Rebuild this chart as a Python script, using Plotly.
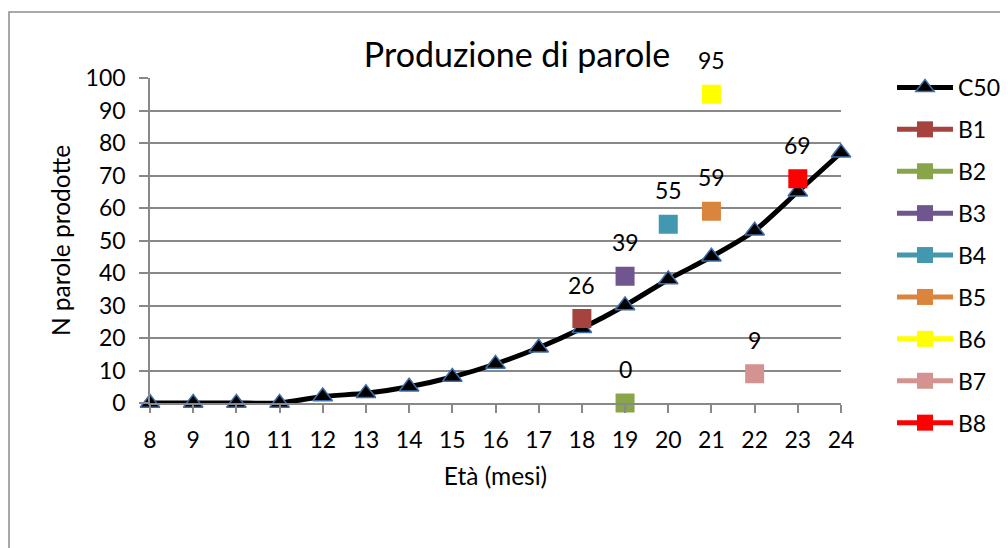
import plotly.graph_objects as go

months = list(range(8, 25))
c50 = [0, 0, 0, 0, 2, 3, 5, 8, 12, 17, 23, 30, 38, 45, 53, 65, 77]

b_names = ["B1", "B2", "B3", "B4", "B5", "B6", "B7", "B8"]
b_x = [18, 19, 19, 20, 21, 21, 22, 23]
b_y = [26, 0, 39, 55, 59, 95, 9, 69]
b_colors = ["#A5433F", "#89A54A", "#6F568F", "#4198AF", "#DB843D", "#FFFF00", "#D49391", "#FF0000"]

W, H = 1008, 548
OFF = 8  # page body margin
L, R = 150 - OFF, 841 - OFF
T, B = 78 - OFF, 403 - OFF

FONT = "Lato"

fig = go.Figure()
fig.add_trace(go.Scatter(
    x=months, y=c50, mode="lines+markers", name="C50",
    line=dict(color="black", width=5, shape="spline", smoothing=0.6),
    marker=dict(symbol="triangle-up", size=17, color="black",
                line=dict(color="#3C6DA8", width=1.5)),
    cliponaxis=False, legendgroup="C50",
))
for n, x, y, c in zip(b_names, b_x, b_y, b_colors):
    fig.add_trace(go.Scatter(
        x=[x], y=[y], mode="lines+markers", name=n,
        line=dict(color=c, width=5),
        marker=dict(symbol="square", size=19, color=c),
        cliponaxis=False, legendgroup=n,
    ))

annotations = [dict(x=x, y=y, text=str(y), showarrow=False, yshift=34,
                    xanchor="center", yanchor="middle",
                    font=dict(family=FONT, size=23, color="black"))
               for x, y in zip(b_x, b_y)]

grid = "#888888"
fig.update_layout(
    width=W, height=H,
    margin=dict(l=L, r=W - R, t=T, b=H - B, autoexpand=False),
    paper_bgcolor="white", plot_bgcolor="white",
    font=dict(family=FONT, size=23, color="black"),
    title=dict(text="Produzione di parole", x=(517 - OFF) / W, xanchor="center",
               y=1 - (55 - OFF) / H, yanchor="middle", xref="container", yref="container",
               font=dict(family=FONT, size=34, color="black")),
    xaxis=dict(range=[8, 24], dtick=1, tick0=8, showgrid=False,
               showline=True, linecolor=grid, linewidth=1.5,
               ticks="outside", ticklen=8, tickcolor=grid, tickwidth=1.5,
               ticklabelstandoff=8, zeroline=False,
               title=dict(text="Età (mesi)", font=dict(size=24.5), standoff=16)),
    yaxis=dict(range=[0, 100], dtick=10, showgrid=True, gridcolor=grid, gridwidth=1.5,
               showline=True, linecolor=grid, linewidth=1.5,
               ticks="outside", ticklen=9, tickcolor=grid, tickwidth=1.5,
               ticklabelstandoff=9, zeroline=False,
               title=dict(text="N parole prodotte", font=dict(size=24.5), standoff=8)),
    legend=dict(x=(892 - OFF) / W, xanchor="left", y=1 - (66 - OFF) / H, yanchor="top",
                xref="container", yref="container", maxheight=1,
                font=dict(size=23), tracegroupgap=9, itemwidth=56,
                bgcolor="rgba(0,0,0,0)"),
    showlegend=True,
    annotations=annotations,
    shapes=[dict(type="rect", xref="paper", yref="paper",
                 x0=(9 - OFF - L) / (R - L), x1=(1100 - L) / (R - L),
                 y0=(B - 600) / (B - T), y1=(B - (12 - OFF)) / (B - T),
                 line=dict(color="#8C8C8C", width=1.5), layer="below")],
)
fig.write_html("out.html")
